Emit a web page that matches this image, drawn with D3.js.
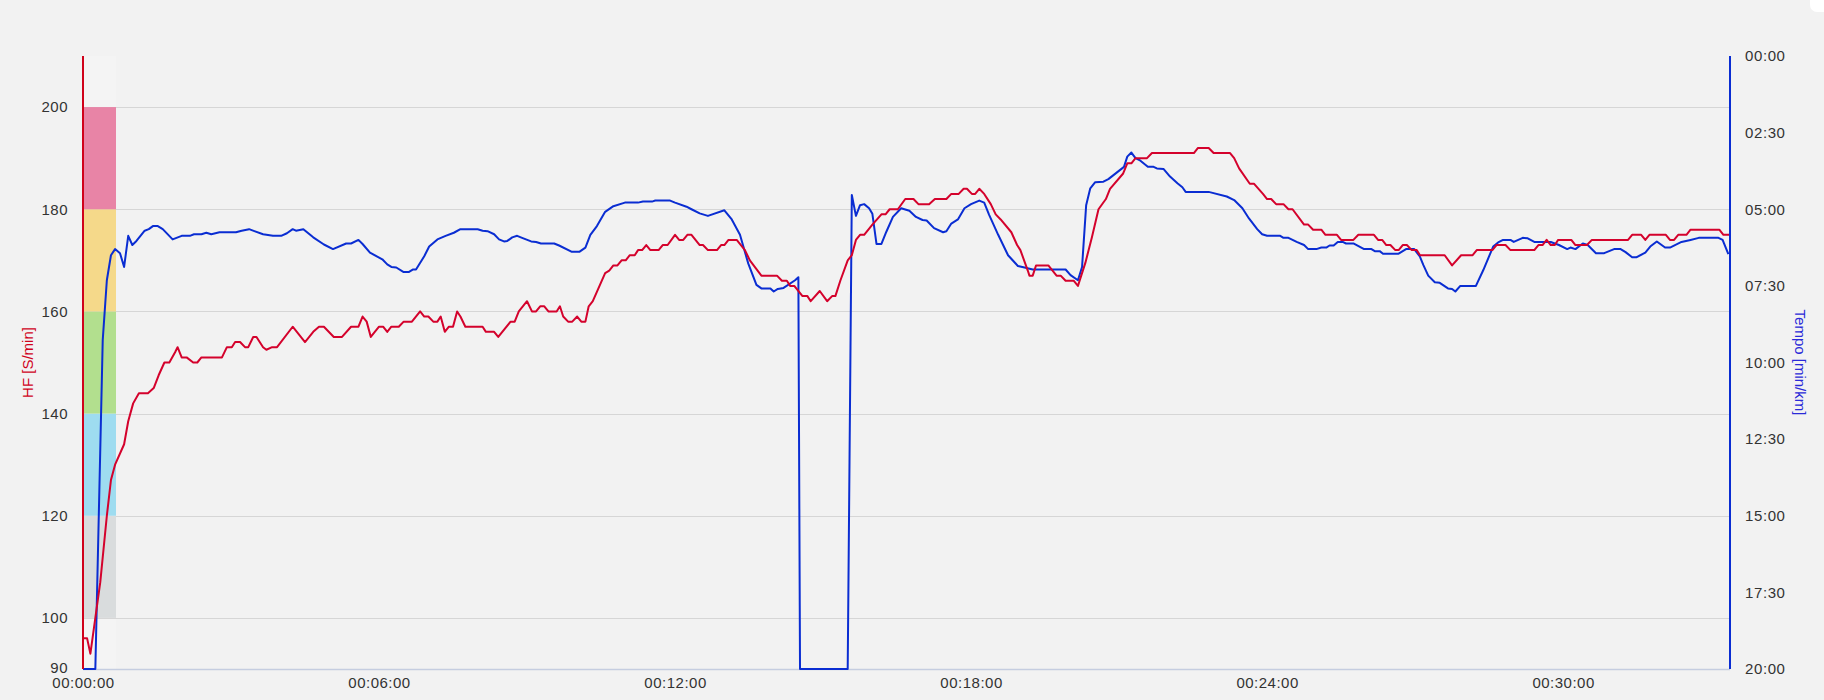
<!DOCTYPE html>
<html><head><meta charset="utf-8">
<script src="https://cdn.jsdelivr.net/npm/d3@7/dist/d3.min.js"></script>
<style>
html,body{margin:0;padding:0;background:#f2f2f2;}
svg{display:block;font-family:"Liberation Sans",Arial,sans-serif;}
</style></head>
<body>
<svg id="chart" width="1824" height="700"></svg>
<script>
// ---- data ----
// time in seconds, heart rate in beats/min
const hrSeries = [[0,96],[5,96],[9,93],[15,100],[21,107],[29,120],[34,127],[39,130],[50,134],[55,138.5],[61,142],[68,144],[79,144],[86,145],[92,147.5],[99,150],[105,150],[112,152],[115,153],[120,151],[126,151],[134,150],[139,150],[144,151],[169,151],[175,153],[181,153],[185,154],[191,154],[197,153],[201,153],[207,155],[211,155],[219,153],[223,152.5],[230,153],[236,153],[255,157],[270,154],[280,156],[287,157],[293,157],[305,155],[315,155],[326,157],[335,157],[340,159],[345,158],[350,155],[360,157],[365,157],[370,156],[375,157],[384,157],[390,158],[400,158],[410,160],[415,159],[420,159],[426,158],[431,158],[435,159],[440,156],[445,157],[450,157],[455,160],[459,159],[465,157],[486,157],[490,156],[500,156],[505,155],[520,158],[525,158],[530,160],[540,162],[546,160],[551,160],[556,161],[561,161],[566,160],[576,160],[580,161],[584,159],[590,158],[595,158],[601,159],[606,158],[611,158],[615,161],[620,162],[635,167.5],[640,168],[645,169],[650,169],[655,170],[660,170],[665,171],[671,171],[675,172],[680,172],[685,173],[690,172],[700,172],[705,173],[711,173],[720,175],[725,174],[730,174],[735,175],[740,175],[750,173],[754,173],[760,172],[771,172],[776,173],[780,173],[785,174],[795,174],[805,172],[811,170],[825,167],[844,167],[850,166],[856,166],[860,165],[865,165],[875,163],[881,163],[885,162],[896,164],[905,162],[911,163],[915,163],[921,166],[930,170],[935,171],[940,174],[945,175],[950,175],[960,177],[971,179],[976,179],[981,180],[991,180],[1000,182],[1010,182],[1016,181],[1029,181],[1036,182],[1050,182],[1056,183],[1065,183],[1071,184],[1075,184],[1081,183],[1085,183],[1090,184],[1096,183],[1104,181],[1110,179],[1116,178],[1129,175.5],[1136,173],[1140,172],[1149,168],[1151,167],[1155,167],[1159,169],[1174,169],[1184,167],[1189,167],[1195,166],[1205,166],[1210,165],[1219,169.5],[1227,174.5],[1235,180],[1244,182],[1249,184],[1265,187],[1270,189],[1275,189],[1280,190],[1294,190],[1300,191],[1351,191],[1356,192],[1369,192],[1375,191],[1395,191],[1400,190],[1406,188],[1419,185],[1424,185],[1435,183],[1440,182],[1445,182],[1451,181],[1460,181],[1466,180],[1471,180],[1485,177],[1490,177],[1496,176],[1506,176],[1511,175],[1525,175],[1530,174],[1545,174],[1551,175],[1570,175],[1575,174],[1580,174],[1585,173],[1590,173],[1596,172],[1600,172],[1605,173],[1610,173],[1616,172],[1622,172],[1626,171],[1656,171],[1665,169],[1676,171],[1690,171],[1695,172],[1714,172],[1719,173],[1730,173],[1736,172],[1765,172],[1770,173],[1775,173],[1780,174],[1785,173],[1790,173],[1794,174],[1810,174],[1815,173],[1829,173],[1835,174],[1879,174],[1884,175],[1895,175],[1900,174],[1905,175],[1925,175],[1930,174],[1935,174],[1940,175],[1950,175],[1955,176],[1990,176],[1995,175],[2002,175]];

// time in seconds, pace in seconds per km
const paceSeries = [[0,1200],[15,1200],[24,556],[29,439],[34,390],[39,378],[45,386],[50,413],[55,352],[60,370],[65,362],[75,342],[80,339],[85,333],[91,333],[97,339],[109,359],[120,352],[130,352],[135,349],[144,349],[150,346],[156,349],[166,345],[186,345],[193,342],[202,339],[219,349],[231,352],[241,352],[248,347],[255,339],[259,342],[268,339],[280,355],[293,369],[304,378],[320,367],[326,367],[335,360],[340,368],[349,385],[364,398],[370,408],[375,413],[381,414],[390,423],[396,423],[401,418],[405,418],[415,392],[421,373],[431,359],[441,352],[451,346],[459,339],[480,339],[486,342],[492,343],[500,349],[506,359],[512,363],[516,362],[522,355],[528,352],[534,356],[545,363],[551,364],[557,367],[573,367],[579,371],[594,383],[604,383],[611,375],[617,350],[625,333],[635,305],[645,294],[659,287],[675,287],[681,285],[692,285],[696,283],[714,283],[720,287],[734,295],[740,300],[750,308],[760,313],[780,302],[789,320],[799,350],[809,406],[819,448],[825,455],[836,455],[840,461],[845,456],[852,454],[866,439],[870,433],[872,1200],[930,1200],[935,272],[940,313],[945,292],[950,290],[956,298],[960,309],[965,368],[971,368],[977,344],[985,315],[995,298],[1005,303],[1013,315],[1021,321],[1026,322],[1035,337],[1046,345],[1050,343],[1056,328],[1064,320],[1072,298],[1080,290],[1090,283],[1096,287],[1102,311],[1113,350],[1125,390],[1137,411],[1145,414],[1155,418],[1195,418],[1201,429],[1210,439],[1215,413],[1220,292],[1225,259],[1231,247],[1241,246],[1247,241],[1266,217],[1270,197],[1275,189],[1280,200],[1286,205],[1295,217],[1302,217],[1306,220],[1314,221],[1322,236],[1331,249],[1337,257],[1341,266],[1369,266],[1391,275],[1400,282],[1410,298],[1418,318],[1428,339],[1434,349],[1440,352],[1456,352],[1460,356],[1466,356],[1476,364],[1485,370],[1490,378],[1500,378],[1506,375],[1512,375],[1516,371],[1521,371],[1526,364],[1532,364],[1536,367],[1545,367],[1558,378],[1567,378],[1571,382],[1577,382],[1581,387],[1600,387],[1609,378],[1619,378],[1626,393],[1630,409],[1636,430],[1644,443],[1650,444],[1660,455],[1665,456],[1669,461],[1675,450],[1694,450],[1703,419],[1715,373],[1721,365],[1727,360],[1736,360],[1740,364],[1751,356],[1757,357],[1765,364],[1785,364],[1795,370],[1805,378],[1809,375],[1815,378],[1824,367],[1830,370],[1840,386],[1850,386],[1862,378],[1870,378],[1876,384],[1884,394],[1889,394],[1900,385],[1906,373],[1914,363],[1924,375],[1930,375],[1944,364],[1955,360],[1965,356],[1989,356],[1994,360],[2001,388]];

// heart-rate zones [from, to]
const hrZones = [[100,120],[120,140],[140,160],[160,180],[180,200]];
const zoneColors = ["#d9dcdd","#9edcf0","#b2df8e","#f5d98a","#e884a6"];

const hrTicks = [90,100,120,140,160,180,200];
const hrGridTicks = [100,120,140,160,180,200];
const paceTicks = [0,150,300,450,600,750,900,1050,1200];
const timeTicks = [0,360,720,1080,1440,1800];
const timeDomain = [0,2003];
const hrDomain = [90,210];
const paceDomain = [0,1200];

const hrLabel = "HF [S/min]";
const paceLabel = "Tempo [min/km]";

// ---- layout ----
const W = 1824, H = 700;
const m = {left:83, right:94, top:56, bottom:31};
const iw = W - m.left - m.right, ih = H - m.top - m.bottom;
const zoneWidth = 33;

const svg = d3.select("#chart");
svg.append("rect").attr("width",W).attr("height",H).attr("fill","#f2f2f2");
svg.append("rect").attr("x",1810).attr("y",-12).attr("width",30).attr("height",24).attr("rx",7).attr("fill","#ffffff");

const g = svg.append("g").attr("transform",`translate(${m.left},${m.top})`);

const x = d3.scaleLinear().domain(timeDomain).range([0,iw]);
const yHR = d3.scaleLinear().domain(hrDomain).range([ih,0]);
const yPace = d3.scaleLinear().domain(paceDomain).range([0,ih]);

const pad = n => String(n).padStart(2,"0");
const fmtHMS = s => `${pad(Math.floor(s/3600))}:${pad(Math.floor(s/60)%60)}:${pad(s%60)}`;
const fmtMS = s => `${pad(Math.floor(s/60))}:${pad(s%60)}`;

// zone strip background
g.append("rect").attr("x",0).attr("y",0).attr("width",zoneWidth).attr("height",ih).attr("fill","#f4f4f4");

// gridlines
g.append("g").selectAll("line").data(hrGridTicks).join("line")
  .attr("x1",0).attr("x2",iw)
  .attr("y1",d=>Math.round(yHR(d))+0.5).attr("y2",d=>Math.round(yHR(d))+0.5)
  .attr("stroke","#d6d6d6").attr("stroke-width",1);

// zones
g.append("g").selectAll("rect").data(hrZones).join("rect")
  .attr("x",0).attr("width",zoneWidth)
  .attr("y",d=>yHR(d[1])).attr("height",d=>yHR(d[0])-yHR(d[1]))
  .attr("fill",(d,i)=>zoneColors[i]);

// bottom axis line
g.append("line").attr("x1",0).attr("x2",iw).attr("y1",ih+0.5).attr("y2",ih+0.5)
  .attr("stroke","#c5cde0").attr("stroke-width",1.5);

// lines
g.append("clipPath").attr("id","clip").append("rect").attr("x",0).attr("y",-2).attr("width",iw).attr("height",ih+3);
const lineHR = d3.line().x(d=>x(d[0])).y(d=>yHR(d[1]));
const linePace = d3.line().x(d=>x(d[0])).y(d=>yPace(Math.min(d[1],paceDomain[1])));
g.append("path").datum(paceSeries).attr("d",linePace).attr("fill","none")
  .attr("stroke","#0a2dd2").attr("stroke-width",2).attr("stroke-linejoin","round").attr("clip-path","url(#clip)");
g.append("path").datum(hrSeries).attr("d",lineHR).attr("fill","none")
  .attr("stroke","#d4022c").attr("stroke-width",2).attr("stroke-linejoin","round").attr("clip-path","url(#clip)");

// axes
const leftAxis = d3.axisLeft(yHR).tickValues(hrTicks).tickSize(0).tickPadding(15);
const gl = g.append("g").call(leftAxis);
gl.select(".domain").remove();
gl.selectAll("text").attr("fill","#333").style("font-size","15px").style("letter-spacing","0.5px");
gl.selectAll("text").filter(d=>d===hrDomain[0]).attr("dy","0.2em");
g.append("line").attr("x1",0).attr("x2",0).attr("y1",0).attr("y2",ih).attr("stroke","#d0021b").attr("stroke-width",2);

const rightAxis = d3.axisRight(yPace).tickValues(paceTicks).tickFormat(fmtMS).tickSize(0).tickPadding(15);
const gr = g.append("g").attr("transform",`translate(${iw},0)`).call(rightAxis);
gr.select(".domain").remove();
gr.selectAll("text").attr("fill","#333").style("font-size","15px").style("letter-spacing","0.6px");
g.append("line").attr("x1",iw).attr("x2",iw).attr("y1",0).attr("y2",ih).attr("stroke","#0a2dd2").attr("stroke-width",2);

const bottomAxis = d3.axisBottom(x).tickValues(timeTicks).tickFormat(fmtHMS).tickSize(0).tickPadding(8);
const gb = g.append("g").attr("transform",`translate(0,${ih})`).call(bottomAxis);
gb.select(".domain").remove();
gb.selectAll("text").attr("fill","#333").style("font-size","15px").style("letter-spacing","0.5px");

// axis titles
svg.append("text").attr("transform",`translate(33,${m.top+ih/2}) rotate(-90)`)
  .attr("text-anchor","middle").attr("fill","#d0021b").style("font-size","15px").text(hrLabel);
svg.append("text").attr("transform",`translate(1795,${m.top+ih/2}) rotate(90)`)
  .attr("text-anchor","middle").attr("fill","#2a2ad8").style("font-size","15px").text(paceLabel);
</script>
</body></html>
